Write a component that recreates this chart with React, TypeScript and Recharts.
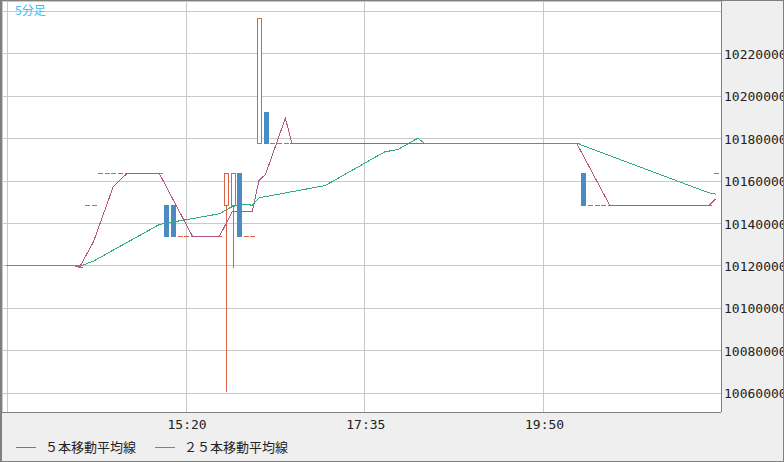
import React from 'react';
import { ComposedChart, Bar, Line, XAxis, YAxis, CartesianGrid } from 'recharts';

const times = [
  '13:05','13:10','13:15','13:20','13:25','13:30','13:35','13:40','13:45','13:50',
  '13:55','14:00','14:05','14:10','14:15','14:20','14:25','14:30','14:35','14:40',
  '14:45','14:50','14:55','15:00','15:05','15:10','15:15','15:20','15:25','15:30',
  '15:35','15:40','15:45','15:50','15:55','16:00','16:05','16:10','16:15','16:20',
  '16:25','16:30','16:35','16:40','16:45','16:50','16:55','17:00','17:05','17:10',
  '17:15','17:20','17:25','17:30','17:35','17:40','17:45','17:50','17:55','18:00',
  '18:05','18:10','18:15','18:20','18:25','18:30','18:35','18:40','18:45','18:50',
  '18:55','19:00','19:05','19:10','19:15','19:20','19:25','19:30','19:35','19:40',
  '19:45','19:50','19:55','20:00','20:05','20:10','20:15','20:20','20:25','20:30',
  '20:35','20:40','20:45','20:50','20:55','21:00','21:05','21:10','21:15','21:20',
  '21:25','21:30','21:35','21:40','21:45','21:50','21:55','22:00',
];

const opens = [
  10120000,10120000,10120000,10120000,10120000,10120000,10120000,10120000,10120000,10120000,
  10120000,10119400,10148600,10148600,10163400,10163400,10163400,10163400,10163400,10163400,
  10163400,10163400,10163400,10163400,10148600,10148600,10133800,10133800,10133800,10133800,
  10133800,10133800,10133800,10148600,10148600,10163400,10133800,10133800,10177900,10192600,
  10177900,10177900,10177900,10177900,10177900,10177900,10177900,10177900,10177900,10177900,
  10177900,10177900,10177900,10177900,10177900,10177900,10177900,10177900,10177900,10177900,
  10177900,10177900,10177900,10177900,10177900,10177900,10177900,10177900,10177900,10177900,
  10177900,10177900,10177900,10177900,10177900,10177900,10177900,10177900,10177900,10177900,
  10177900,10177900,10177900,10177900,10177900,10177900,10177900,10163400,10148600,10148600,
  10148600,10148600,10148600,10148600,10148600,10148600,10148600,10148600,10148600,10148600,
  10148600,10148600,10148600,10148600,10148600,10148600,10148600,10163400,
];

const highs = [
  10120000,10120000,10120000,10120000,10120000,10120000,10120000,10120000,10120000,10120000,
  10120000,10119400,10148600,10148600,10163400,10163400,10163400,10163400,10163400,10163400,
  10163400,10163400,10163400,10163400,10148600,10148600,10133800,10133800,10133800,10133800,
  10133800,10133800,10133800,10163400,10163400,10163400,10133800,10133800,10236800,10192600,
  10177900,10177900,10177900,10177900,10177900,10177900,10177900,10177900,10177900,10177900,
  10177900,10177900,10177900,10177900,10177900,10177900,10177900,10177900,10177900,10177900,
  10177900,10177900,10177900,10177900,10177900,10177900,10177900,10177900,10177900,10177900,
  10177900,10177900,10177900,10177900,10177900,10177900,10177900,10177900,10177900,10177900,
  10177900,10177900,10177900,10177900,10177900,10177900,10177900,10163400,10148600,10148600,
  10148600,10148600,10148600,10148600,10148600,10148600,10148600,10148600,10148600,10148600,
  10148600,10148600,10148600,10148600,10148600,10148600,10148600,10163400,
];

const lows = [
  10120000,10120000,10120000,10120000,10120000,10120000,10120000,10120000,10120000,10120000,
  10120000,10119400,10148600,10148600,10163400,10163400,10163400,10163400,10163400,10163400,
  10163400,10163400,10163400,10163400,10133800,10133800,10133800,10133800,10133800,10133800,
  10133800,10133800,10133800,10060700,10119400,10133800,10133800,10133800,10177900,10177900,
  10177900,10177900,10177900,10177900,10177900,10177900,10177900,10177900,10177900,10177900,
  10177900,10177900,10177900,10177900,10177900,10177900,10177900,10177900,10177900,10177900,
  10177900,10177900,10177900,10177900,10177900,10177900,10177900,10177900,10177900,10177900,
  10177900,10177900,10177900,10177900,10177900,10177900,10177900,10177900,10177900,10177900,
  10177900,10177900,10177900,10177900,10177900,10177900,10177900,10148600,10148600,10148600,
  10148600,10148600,10148600,10148600,10148600,10148600,10148600,10148600,10148600,10148600,
  10148600,10148600,10148600,10148600,10148600,10148600,10148600,10163400,
];

const closes = [
  10120000,10120000,10120000,10120000,10120000,10120000,10120000,10120000,10120000,10120000,
  10120000,10119400,10148600,10148600,10163400,10163400,10163400,10163400,10163400,10163400,
  10163400,10163400,10163400,10163400,10133800,10133800,10133800,10133800,10133800,10133800,
  10133800,10133800,10133800,10163400,10163400,10133800,10133800,10133800,10236800,10177900,
  10177900,10177900,10177900,10177900,10177900,10177900,10177900,10177900,10177900,10177900,
  10177900,10177900,10177900,10177900,10177900,10177900,10177900,10177900,10177900,10177900,
  10177900,10177900,10177900,10177900,10177900,10177900,10177900,10177900,10177900,10177900,
  10177900,10177900,10177900,10177900,10177900,10177900,10177900,10177900,10177900,10177900,
  10177900,10177900,10177900,10177900,10177900,10177900,10177900,10148600,10148600,10148600,
  10148600,10148600,10148600,10148600,10148600,10148600,10148600,10148600,10148600,10148600,
  10148600,10148600,10148600,10148600,10148600,10148600,10148600,10163400,
];

const ma5 = [
  10120000,10120000,10120000,10120000,10120000,10120000,10120000,10120000,10120000,10120000,
  10120000,10119880,10125600,10131320,10140000,10148680,10157480,10160440,10163400,10163400,
  10163400,10163400,10163400,10163400,10157480,10151560,10145640,10139720,10133800,10133800,
  10133800,10133800,10133800,10139720,10145640,10145640,10145640,10145640,10160320,10163220,
  10172040,10180860,10189680,10177900,10177900,10177900,10177900,10177900,10177900,10177900,
  10177900,10177900,10177900,10177900,10177900,10177900,10177900,10177900,10177900,10177900,
  10177900,10177900,10177900,10177900,10177900,10177900,10177900,10177900,10177900,10177900,
  10177900,10177900,10177900,10177900,10177900,10177900,10177900,10177900,10177900,10177900,
  10177900,10177900,10177900,10177900,10177900,10177900,10177900,10172040,10166180,10160320,
  10154460,10148600,10148600,10148600,10148600,10148600,10148600,10148600,10148600,10148600,
  10148600,10148600,10148600,10148600,10148600,10148600,10148600,10151560,
];

const ma25 = [
  10120000,10120000,10120000,10120000,10120000,10120000,10120000,10120000,10120000,10120000,
  10120000,10119976,10121120,10122264,10124000,10125736,10127472,10129208,10130944,10132680,
  10134416,10136152,10137888,10139624,10140176,10140728,10141280,10141832,10142384,10142936,
  10143488,10144040,10144592,10146328,10148064,10148616,10149192,10148600,10152128,10152708,
  10153288,10153868,10154448,10155028,10155608,10156188,10156768,10157348,10157928,10159692,
  10161456,10163220,10164984,10166748,10168512,10170276,10172040,10173804,10174384,10174964,
  10176728,10178492,10180256,10177900,10177900,10177900,10177900,10177900,10177900,10177900,
  10177900,10177900,10177900,10177900,10177900,10177900,10177900,10177900,10177900,10177900,
  10177900,10177900,10177900,10177900,10177900,10177900,10177900,10176728,10175556,10174384,
  10173212,10172040,10170868,10169696,10168524,10167352,10166180,10165008,10163836,10162664,
  10161492,10160320,10159148,10157976,10156804,10155632,10154460,10153880,
];

const yTicks = [10060000, 10080000, 10100000, 10120000, 10140000, 10160000, 10180000, 10200000, 10220000, 10240000];
const xTicks = ['13:05', '15:20', '17:35', '19:50'];
const hiddenX = '13:05';
const hiddenY = 10240000;
const yDomain = [10051100, 10245000];
const title = '5分足';
const legendItems = [
  { name: '５本移動平均線', color: '#b4568a' },
  { name: '２５本移動平均線', color: '#2eae74' },
];

const RED = '#dd6347';
const BLUE = '#4a8cc2';
const PINK = '#b4568a';
const GREEN = '#2eae74';
const GRID = '#c9c9c9';
const AXIS = '#7f7f7f';

const data = times.map((t, i) => ({
  time: t,
  open: opens[i],
  high: highs[i],
  low: lows[i],
  close: closes[i],
  range: [lows[i], highs[i]],
  ma5: ma5[i],
  ma25: ma25[i],
}));

function Candle(props: any) {
  const { x, y, width, height, payload } = props;
  if (x == null || y == null || !payload) return null;
  const { open, close, high, low } = payload;
  const cx = Math.round(x + width / 2);
  const range = high - low;
  const h = height || 0;
  const pix = (v: number) => Math.floor(range === 0 ? y : y + ((high - v) / range) * h);
  const yo = pix(open);
  const yc = pix(close);
  const yh = pix(high);
  const yl = pix(low);
  const left = cx - 2;
  if (open === close) {
    return (
      <g shapeRendering="crispEdges">
        {yh !== yl && <rect x={cx} y={yh} width={1} height={yl - yh + 1} fill={RED} />}
        <rect x={left} y={yo} width={5} height={1} fill={RED} />
      </g>
    );
  }
  const up = close > open;
  const top = Math.min(yo, yc);
  const bot = Math.max(yo, yc);
  const color = up ? RED : BLUE;
  return (
    <g shapeRendering="crispEdges">
      {yh < top && <rect x={cx} y={yh} width={1} height={top - yh} fill={color} />}
      {yl > bot && <rect x={cx} y={bot + 1} width={1} height={yl - bot} fill={color} />}
      {up ? (
        <g>
          <rect x={left} y={top} width={5} height={bot - top + 1} fill={RED} />
          <rect x={left + 1} y={top + 1} width={3} height={Math.max(bot - top - 1, 0)} fill="#ffffff" />
        </g>
      ) : (
        <rect x={left} y={top} width={5} height={bot - top + 1} fill={BLUE} />
      )}
    </g>
  );
}

const XTick = (props: any) => {
  const { x, y, payload } = props;
  if (payload.value === hiddenX) return null;
  return (
    <text x={x + 1} y={y + 17} textAnchor="middle" fontFamily="'DejaVu Sans Mono', monospace" fontSize={13} fill="#222">
      {payload.value}
    </text>
  );
};

const YTick = (props: any) => {
  const { x, y, payload } = props;
  if (payload.value === hiddenY) return null;
  return (
    <text x={x + 3} y={y + 5} textAnchor="start" fontFamily="'DejaVu Sans Mono', monospace" fontSize={13} fill="#222">
      {payload.value}
    </text>
  );
};

export default function App() {
  return (
    <div
      style={{
        position: 'absolute',
        left: 0,
        top: 0,
        width: 784,
        height: 462,
        boxSizing: 'border-box',
        border: `1px solid ${AXIS}`,
        borderLeft: `2px solid ${AXIS}`,
        background: '#efefef',
        overflow: 'hidden',
      }}
    >
      <ComposedChart
        width={781}
        height={460}
        data={data}
        margin={{ top: 0, right: 0, bottom: 0, left: 0 }}
        style={{ shapeRendering: 'crispEdges' }}
      >
        <CartesianGrid fill="#ffffff" stroke={GRID} strokeDasharray="" />
        <XAxis
          dataKey="time"
          type="category"
          ticks={xTicks}
          interval={0}
          height={49}
          tickSize={0}
          tickMargin={0}
          tickLine={false}
          axisLine={{ stroke: AXIS }}
          tick={<XTick />}
          padding={{ left: 2, right: 2 }}
        />
        <YAxis
          orientation="right"
          domain={yDomain}
          ticks={yTicks}
          allowDataOverflow
          width={62}
          tickSize={0}
          tickMargin={0}
          tickLine={false}
          axisLine={{ stroke: AXIS }}
          tick={<YTick />}
        />
        <Bar dataKey="range" barSize={5} shape={<Candle />} isAnimationActive={false} />
        <Line type="linear" dataKey="ma5" stroke={PINK} strokeWidth={1} dot={false} activeDot={false} isAnimationActive={false} />
        <Line type="linear" dataKey="ma25" stroke={GREEN} strokeWidth={1} dot={false} activeDot={false} isAnimationActive={false} />
      </ComposedChart>
      <div
        style={{
          position: 'absolute',
          left: 13,
          top: 2,
          color: '#3cbdf0',
          fontSize: 12,
          fontFamily: "'Noto Sans CJK JP', sans-serif",
          lineHeight: '14px',
        }}
      >
        {title}
      </div>
      <div
        style={{
          position: 'absolute',
          left: 14,
          top: 437,
          display: 'flex',
          fontSize: 13,
          fontFamily: "'Noto Sans CJK JP', sans-serif",
          color: '#222',
          lineHeight: '18px',
        }}
      >
        {legendItems.map((it, i) => (
          <div key={i} style={{ display: 'flex', alignItems: 'center', marginRight: 19 }}>
            <div style={{ width: 20, height: 1, background: it.color, marginRight: 9 }} />
            <span>{it.name}</span>
          </div>
        ))}
      </div>
    </div>
  );
}
